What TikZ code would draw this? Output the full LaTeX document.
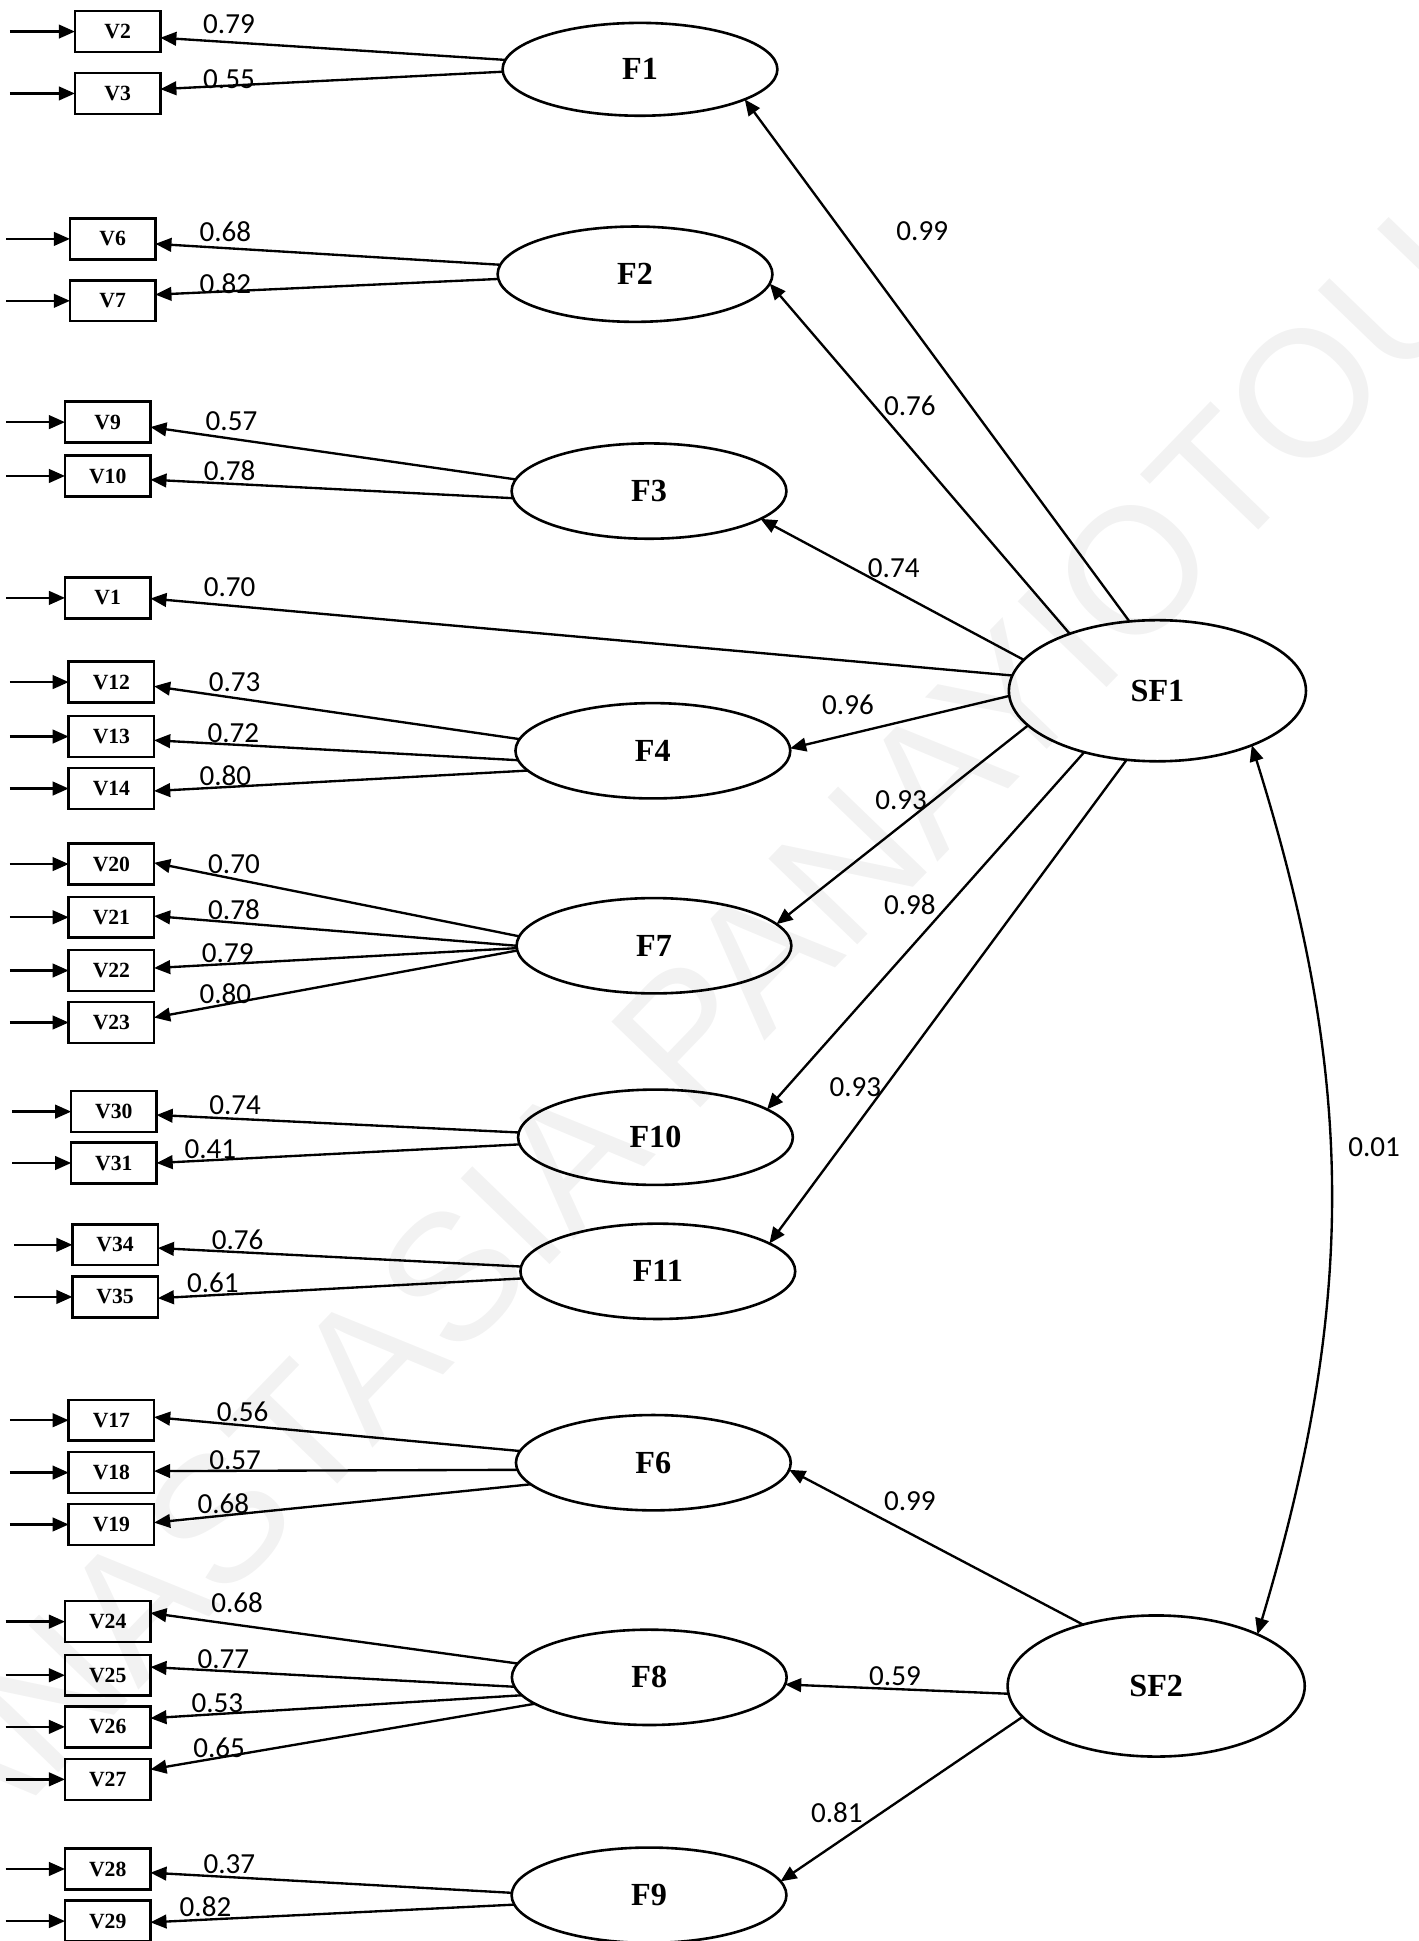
\documentclass[tikz,border=0pt]{standalone}
\usepackage{fontspec}
\usetikzlibrary{arrows.meta,shapes.geometric,calc}
\newfontfamily\lblfont{Liberation Serif}
\newfontfamily\numfont{Carlito}
\newfontfamily\wmfont{Liberation Sans}
\definecolor{wmgray}{RGB}{242,242,242}
\begin{document}
\begin{tikzpicture}[x=1pt,y=-1pt,
  obs/.style={draw,line width=2pt,minimum width=69pt,minimum height=33pt,inner sep=0pt,outer sep=0pt,font=\lblfont\bfseries\fontsize{17.5}{17.5}\selectfont},
  lat/.style={draw,ellipse,line width=2.1pt,minimum width=222pt,minimum height=77pt,inner sep=0pt,outer sep=0pt,font=\lblfont\bfseries\fontsize{26}{26}\selectfont},
  sf/.style={lat,minimum width=240pt,minimum height=114pt},
  coef/.style={inner sep=0pt,font=\numfont\fontsize{23.5}{23.5}\selectfont},
  arr/.style={line width=1.9pt,-{Triangle[length=13pt,width=11pt]}},
  dbl/.style={line width=1.9pt,{Triangle[length=13pt,width=11pt]}-{Triangle[length=13pt,width=11pt]}},
  wm/.style={inner sep=0pt,text=wmgray,rotate=46,font=\wmfont\fontsize{145}{145}\selectfont}]
\useasboundingbox (0,0) rectangle (1146,1568);
% watermark
\node[wm] (wm) at (551,839) {ANASTASIA PANAYIOTOU};
% latent factors
\node[lat,minimum height=75pt] (F1) at (517,56) {F1};
\node[lat] (F2) at (513,221.5) {F2};
\node[lat] (F3) at (524.3,396.7) {F3};
\node[lat] (F4) at (527.4,606.5) {F4};
\node[lat] (F7) at (528.3,764) {F7};
\node[lat] (F10) at (529.5,918.7) {F10};
\node[lat] (F11) at (531.4,1027) {F11};
\node[lat] (F6) at (527.8,1181.6) {F6};
\node[lat] (F8) at (524.5,1355) {F8};
\node[lat] (F9) at (524.3,1531) {F9};
\node[sf] (SF1) at (935,558) {SF1};
\node[sf] (SF2) at (934,1362) {SF2};
% observed variables with error arrows
\foreach \n/\x/\y/\s in {V2/95/25.5/8, V3/95/75.5/8, V6/91/193/5, V7/91/243/5,
  V9/87/341/5, V10/87/384.5/5, V1/87/483/5, V12/90/551/8, V13/90/595/8, V14/90/637/8,
  V20/90/698/8, V21/90/741/8, V22/90/784/8, V23/90/826/8, V30/92/898/10, V31/92/939.5/10,
  V34/93/1005.6/11.5, V35/93/1047.7/11.5, V17/90/1147.3/8, V18/90/1189.6/8, V19/90/1231.5/8,
  V24/87/1310/4.5, V25/87/1353.3/4.5, V26/87/1395/4.5, V27/87/1437.4/4.5, V28/87/1509.8/4.5, V29/87/1551.9/4.5}{
  \node[obs] (\n) at (\x,\y) {\n};
  \coordinate (i\n) at (\s,\y);
  \draw[arr] (i\n) -- (\n.west);
}
% loadings
\foreach \f/\a/\v/\o in {F1/176.4/V2/5, F1/181.5/V3/-3.5, F2/176.1/V6/4, F2/182.8/V7/-5,
  F3/175.0/V9/4, F3/183.8/V10/3, SF1/174.3/V1/0.5, F4/175.4/V12/3.4, F4/184.0/V13/3, F4/189.5/V14/2,
  F7/176.3/V20/-1, F7/180.3/V21/-1, F7/181.5/V22/-2, F7/182.1/V23/-4,
  F10/178.1/V30/2.7, F10/183.3/V31/0, F11/178.4/V34/2.6, F11/183.6/V35/1,
  F6/175.1/V17/-2.5, F6/183.5/V18/-1.2, F6/190.8/V19/-1.5,
  F8/174.6/V24/-7, F8/184.1/V25/-6.6, F8/188.5/V26/-7, F8/193.8/V27/-8,
  F9/179.0/V28/3, F9/184.7/V29/1}{
  \draw[arr] (\f.\a) -- ($(\v.east)+(0,\o)$);
}
% structural paths
\draw[arr] (SF1.112.5) -- (F1.344.7);
\draw[arr] (SF1.147.9) -- (F2.356);
\draw[arr] (SF1.167.9) -- (F3.346.6);
\draw[arr] (SF1.182.1) -- (F4.1.6);
\draw[arr] (SF1.195.9) -- (F7.10.3);
\draw[arr] (SF1.220.6) -- (F10.14.5);
\draw[arr] (SF1.246.4) -- (F11.14.1);
\draw[arr] (SF2.140) -- (F6.357.6);
\draw[arr] (SF2.183.7) -- (F8.357);
\draw[arr] (SF2.193.5) -- (F9.6.8);
\draw[dbl] (SF1.330.3) to[bend left=17] (SF2.27.9);
% coefficients
\foreach \i/\x/\y/\t in {1/185/19.5/0.79, 2/185/64/0.55, 3/182/187/0.68, 4/182/229/0.82,
  5/187/340.5/0.57, 6/185.5/380.5/0.78, 7/185.5/474/0.70, 8/189.6/551/0.73, 9/188.5/592/0.72,
  10/182/627/0.80, 11/189/698/0.70, 12/189/735/0.78, 13/184/770/0.79, 14/182/803/0.80,
  15/190/893/0.74, 16/170/928/0.41, 17/192/1001.5/0.76, 18/172/1036/0.61, 19/196/1140.5/0.56,
  20/190/1179.5/0.57, 21/180.5/1214.7/0.68, 22/191.5/1295/0.68, 23/180.5/1340/0.77,
  24/175.6/1376/0.53, 25/177/1412/0.65, 26/185.3/1506/0.37, 27/166/1540/0.82,
  28/745/187/0.99, 29/735/328/0.76, 30/722/459/0.74, 31/685/569/0.96, 32/728/646/0.93,
  33/735/731/0.98, 34/691/878/0.93, 35/735/1213/0.99, 36/723/1354/0.59, 37/676/1464/0.81,
  38/1110/927/0.01}{
  \node[coef] (c\i) at (\x,\y) {\t};
}
\end{tikzpicture}
\end{document}
